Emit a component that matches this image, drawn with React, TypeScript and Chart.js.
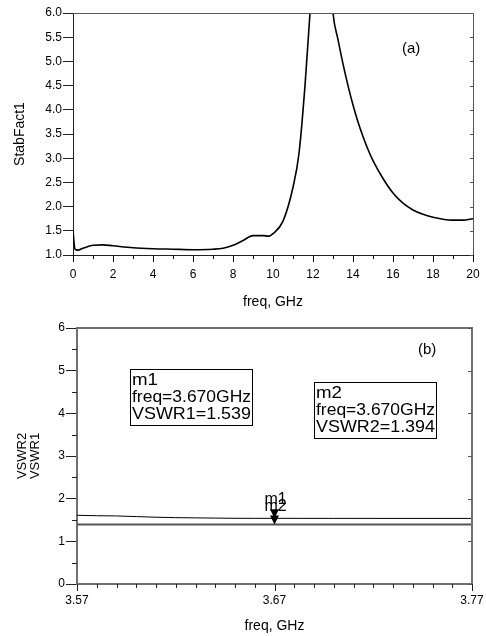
import React, { useEffect, useRef } from 'react';
import { Chart, registerables } from 'chart.js';

Chart.register(...registerables);

const FONT = "'Liberation Sans', Arial, Helvetica, sans-serif";

// ---------- Chart (a): stability factor ----------
const stabFreq = [0, 0.1, 0.25, 0.5, 1, 1.5, 2, 3, 4, 5, 6, 7, 7.5, 8, 8.5, 9, 9.5, 9.8, 10, 10.5, 11, 11.3, 11.6, 11.85, 12.2, 12.5, 12.8, 13.0, 13.25, 13.5, 13.75, 14.0, 14.25, 14.5, 14.75, 15, 15.5, 16, 16.5, 17, 17.5, 18, 18.5, 19, 19.5, 20];
const stabFact = [1.5, 1.12, 1.1, 1.14, 1.2, 1.21, 1.19, 1.15, 1.13, 1.12, 1.11, 1.12, 1.14, 1.2, 1.3, 1.4, 1.4, 1.39, 1.44, 1.7, 2.4, 3.1, 4.5, 6.0, 8.0, 8.5, 7.2, 6.0, 5.45, 4.95, 4.5, 4.1, 3.75, 3.45, 3.18, 2.95, 2.58, 2.28, 2.07, 1.93, 1.84, 1.78, 1.74, 1.72, 1.72, 1.75];
const stabXRange = [0, 20];
const stabYRange = [1, 6];

// ---------- Chart (b): VSWR ----------
const vswrFreq = [3.57, 3.58, 3.59, 3.6, 3.61, 3.62, 3.63, 3.64, 3.65, 3.66, 3.67, 3.7, 3.73, 3.77];
const vswr1 = [1.61, 1.6, 1.595, 1.58, 1.565, 1.555, 1.55, 1.545, 1.54, 1.539, 1.539, 1.538, 1.537, 1.537];
const vswr2 = [1.394, 1.394, 1.394, 1.394, 1.394, 1.394, 1.394, 1.394, 1.394, 1.394, 1.394, 1.394, 1.394, 1.394];
const vswrXTicks = [3.57, 3.67, 3.77];
const vswrYRange = [0, 6];
const markerNames = ['m1', 'm2'];
const markerSeries = ['VSWR1', 'VSWR2'];
const markerFreqs = [3.67, 3.67];
const markerValues = [1.539, 1.394];

const px = (v: number) => Math.round(v) + 0.5;

function line(ctx: CanvasRenderingContext2D, x1: number, y1: number, x2: number, y2: number) {
  ctx.beginPath();
  ctx.moveTo(x1, y1);
  ctx.lineTo(x2, y2);
  ctx.stroke();
}

const noEdgePad = (s: any) => {
  s.paddingLeft = 0;
  s.paddingRight = 0;
};

const decoA = {
  id: 'decoA',
  afterDraw(chart: any) {
    const { ctx, chartArea: a, scales } = chart;
    const x = scales.x, y = scales.y;
    ctx.save();
    ctx.strokeStyle = '#555';
    ctx.lineWidth = 1;
    ctx.beginPath();
    ctx.moveTo(a.left, px(a.top));
    ctx.lineTo(px(a.right), px(a.top));
    ctx.lineTo(px(a.right), a.bottom);
    ctx.stroke();
    for (let v = stabYRange[0]; v <= stabYRange[1] + 1e-9; v += 0.5) {
      const yy = px(y.getPixelForValue(v));
      line(ctx, a.right - 3, yy, a.right, yy);
    }
    ctx.strokeStyle = '#111';
    for (let f = stabXRange[0]; f <= stabXRange[1]; f += 1) {
      const xx = px(x.getPixelForValue(f));
      const len = f % 2 === 0 ? 7 : 4;
      line(ctx, xx, a.bottom, xx, a.bottom + len);
    }
    ctx.fillStyle = '#000';
    ctx.font = `15px ${FONT}`;
    ctx.textAlign = 'left';
    ctx.textBaseline = 'middle';
    ctx.fillText('(a)', 402, 49);
    ctx.restore();
  },
};

const decoB = {
  id: 'decoB',
  afterDraw(chart: any) {
    const { ctx, chartArea: a, scales } = chart;
    const x = scales.x, y = scales.y;
    ctx.save();
    ctx.strokeStyle = '#707070';
    ctx.lineWidth = 2;
    ctx.beginPath();
    ctx.moveTo(a.left, a.top);
    ctx.lineTo(a.right, a.top);
    ctx.lineTo(a.right, a.bottom);
    ctx.stroke();
    ctx.lineWidth = 1;
    ctx.strokeStyle = '#555';
    for (let v = vswrYRange[0]; v <= vswrYRange[1]; v += 1) {
      const yy = px(y.getPixelForValue(v));
      line(ctx, a.right - 4, yy, a.right, yy);
    }
    ctx.strokeStyle = '#222';
    for (let v = vswrYRange[0] + 0.5; v < vswrYRange[1]; v += 1) {
      const yy = px(y.getPixelForValue(v));
      line(ctx, a.left - 5, yy, a.left, yy);
    }
    const n = Math.round((vswrXTicks[vswrXTicks.length - 1] - vswrXTicks[0]) / 0.01);
    for (let i = 0; i <= n; i++) {
      const f = vswrXTicks[0] + i * 0.01;
      const xx = px(x.getPixelForValue(f));
      const major = vswrXTicks.some((t) => Math.abs(t - f) < 1e-6);
      line(ctx, xx, a.bottom, xx, a.bottom + (major ? 7 : 4));
    }
    // markers
    ctx.fillStyle = '#000';
    markerNames.forEach((name, i) => {
      const mx = x.getPixelForValue(markerFreqs[i]);
      const my = y.getPixelForValue(markerValues[i]);
      ctx.beginPath();
      ctx.moveTo(mx - 4.5, my - 9);
      ctx.lineTo(mx + 4.5, my - 9);
      ctx.lineTo(mx, my);
      ctx.closePath();
      ctx.fill();
      ctx.font = `16px ${FONT}`;
      ctx.textAlign = 'center';
      ctx.textBaseline = 'alphabetic';
      ctx.fillText(name, mx + 1, my - 14);
    });
    // readout boxes
    const boxes = [
      { x: 130, y: 51, w: 122, h: 56 },
      { x: 314, y: 64, w: 122, h: 56 },
    ];
    boxes.forEach((b, i) => {
      ctx.strokeStyle = '#000';
      ctx.lineWidth = 1;
      ctx.strokeRect(px(b.x), px(b.y), b.w, b.h);
      const lines = [
        markerNames[i],
        `freq=${markerFreqs[i].toFixed(3)}GHz`,
        `${markerSeries[i]}=${markerValues[i].toFixed(3)}`,
      ];
      ctx.font = `17px ${FONT}`;
      ctx.textAlign = 'left';
      ctx.textBaseline = 'alphabetic';
      lines.forEach((t, k) => {
        const w = ctx.measureText(t).width;
        const sx = Math.min(1.25, Math.max(1, k === 0 ? 1.1 : (b.w - 3) / w));
        ctx.save();
        ctx.translate(b.x + 2, b.y + 16 + k * 17);
        ctx.scale(sx, 1);
        ctx.fillText(t, 0, 0);
        ctx.restore();
      });
    });
    ctx.font = `15px ${FONT}`;
    ctx.textAlign = 'left';
    ctx.textBaseline = 'middle';
    ctx.fillText('(b)', 418, 32);
    ctx.restore();
  },
};

export default function App() {
  const refA = useRef<HTMLCanvasElement>(null);
  const refB = useRef<HTMLCanvasElement>(null);

  useEffect(() => {
    const chartA = new Chart(refA.current as HTMLCanvasElement, {
      type: 'line',
      data: {
        datasets: [
          {
            label: 'StabFact1',
            data: stabFreq.map((f, i) => ({ x: f, y: stabFact[i] })),
            borderColor: '#000',
            borderWidth: 1.6,
            pointRadius: 0,
            cubicInterpolationMode: 'monotone',
            fill: false,
          },
        ],
      },
      options: {
        responsive: false,
        animation: false,
        layout: { padding: { top: 13, right: 13, left: 0, bottom: 0 } },
        plugins: { legend: { display: false }, tooltip: { enabled: false } },
        scales: {
          x: {
            type: 'linear',
            min: stabXRange[0],
            max: stabXRange[1],
            ticks: { stepSize: 2, font: { family: FONT, size: 12 }, color: '#000', padding: 12, maxRotation: 0, autoSkip: false },
            grid: { drawOnChartArea: false, drawTicks: false },
            border: { color: '#222', width: 1 },
            title: { display: true, text: 'freq, GHz', font: { family: FONT, size: 14 }, color: '#000', padding: { top: 0, bottom: 7 } },
            afterFit: (s: any) => { s.height = 318 - 255; noEdgePad(s); },
          },
          y: {
            type: 'linear',
            min: stabYRange[0],
            max: stabYRange[1],
            ticks: { stepSize: 0.5, callback: (v: any) => Number(v).toFixed(1), font: { family: FONT, size: 12 }, color: '#000', padding: 1 },
            grid: { drawOnChartArea: false, tickLength: 10, color: '#222' },
            border: { color: '#222', width: 1 },
            title: { display: true, text: 'StabFact1', font: { family: FONT, size: 14 }, color: '#000', padding: { top: 12, bottom: 0 } },
            afterFit: (s: any) => { s.width = 73; },
          },
        },
      } as any,
      plugins: [decoA],
    });

    const chartB = new Chart(refB.current as HTMLCanvasElement, {
      type: 'line',
      data: {
        datasets: [
          {
            label: 'VSWR1',
            data: vswrFreq.map((f, i) => ({ x: f, y: vswr1[i] })),
            borderColor: '#000',
            borderWidth: 1,
            pointRadius: 0,
            tension: 0,
            fill: false,
          },
          {
            label: 'VSWR2',
            data: vswrFreq.map((f, i) => ({ x: f, y: vswr2[i] })),
            borderColor: '#555',
            borderWidth: 2,
            pointRadius: 0,
            tension: 0,
            fill: false,
          },
        ],
      },
      options: {
        responsive: false,
        animation: false,
        layout: { padding: { top: 10, right: 14, left: 0, bottom: 0 } },
        plugins: { legend: { display: false }, tooltip: { enabled: false } },
        scales: {
          x: {
            type: 'linear',
            min: vswrXTicks[0],
            max: vswrXTicks[vswrXTicks.length - 1],
            afterBuildTicks: (s: any) => { s.ticks = vswrXTicks.map((v) => ({ value: v })); },
            ticks: { callback: (v: any) => Number(v).toFixed(2), font: { family: FONT, size: 12 }, color: '#000', padding: 9, maxRotation: 0, autoSkip: false },
            grid: { drawOnChartArea: false, drawTicks: false },
            border: { color: '#707070', width: 2 },
            title: { display: true, text: 'freq, GHz', font: { family: FONT, size: 14 }, color: '#000', padding: { top: 0, bottom: 1 } },
            afterFit: (s: any) => { s.height = 318 - 266; noEdgePad(s); },
          },
          y: {
            type: 'linear',
            min: vswrYRange[0],
            max: vswrYRange[1],
            ticks: { stepSize: 1, font: { family: FONT, size: 12 }, color: '#000', padding: 1 },
            grid: { drawOnChartArea: false, tickLength: 11, color: '#222' },
            border: { color: '#707070', width: 2 },
            title: { display: true, text: ['VSWR2', 'VSWR1'], font: { family: FONT, size: 13, lineHeight: 1.0 }, color: '#000', padding: { top: 16, bottom: 0 } },
            afterFit: (s: any) => { s.width = 77; },
          },
        },
      } as any,
      plugins: [decoB],
    });

    return () => {
      chartA.destroy();
      chartB.destroy();
    };
  }, []);

  return (
    <div style={{ position: 'fixed', left: 0, top: 0, width: 486, height: 636, background: '#fff' }}>
      <canvas ref={refA} width={486} height={318} style={{ position: 'absolute', left: 0, top: 0 }} />
      <canvas ref={refB} width={486} height={318} style={{ position: 'absolute', left: 0, top: 318 }} />
    </div>
  );
}
